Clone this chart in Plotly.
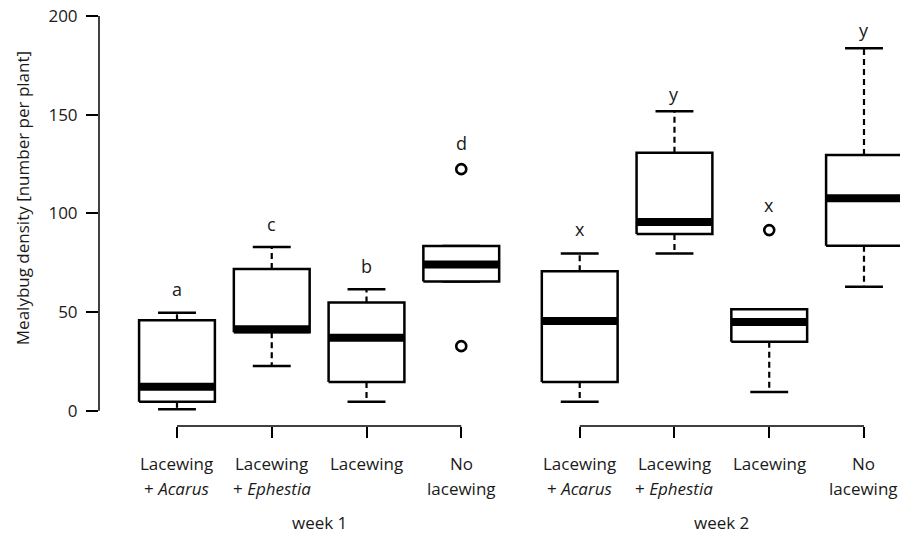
import plotly.graph_objects as go

# ---- data ----
positions = [1, 2, 3, 4, 5.25, 6.25, 7.25, 8.25]
lower_whisker = [0.8, 22.6, 4.6, 65.5, 4.5, 79.7, 9.5, 62.8]
q1 = [4.5, 39.8, 14.5, 65.5, 14.6, 89.5, 35.0, 83.6]
median = [12.1, 41.3, 37.0, 74.1, 45.5, 95.6, 45.0, 107.7]
q3 = [45.8, 71.8, 54.8, 83.5, 70.7, 130.7, 51.4, 129.5]
upper_whisker = [49.6, 82.9, 61.6, 83.5, 79.7, 151.7, 51.4, 183.6]
outlier_box = [3, 3, 6]
outlier_val = [122.4, 32.7, 91.5]
letters = ["a", "c", "b", "d", "x", "y", "x", "y"]
letter_y = [61.6, 94.6, 73.3, 135.6, 92.0, 160.4, 104.2, 193.0]
label_line1 = ["Lacewing", "Lacewing", "Lacewing", "No"] * 2
label_line2 = ["+ <i>Acarus</i>", "+ <i>Ephestia</i>", "", "lacewing"] * 2
groups = ["week 1", "week 2"]
group_members = [[0, 1, 2, 3], [4, 5, 6, 7]]
y_ticks = [0, 50, 100, 150, 200]
y_title = "Mealybug density [number per plant]"

FONT = "Open Sans"
TXT = "#1a1a1a"
BOXW = 0.4   # half box width (x units)
CAPW = 0.2   # half staple width

fig = go.Figure()

bx, by, mx, my, wx, wy, cx, cy = [], [], [], [], [], [], [], []
for p, lo, a, m, b, hi in zip(positions, lower_whisker, q1, median, q3, upper_whisker):
    bx += [p - BOXW, p + BOXW, p + BOXW, p - BOXW, p - BOXW, None]
    by += [a, a, b, b, a, None]
    mx += [p - BOXW, p + BOXW, None]
    my += [m, m, None]
    wx += [p, p, None, p, p, None]
    wy += [b, hi, None, a, lo, None]
    cx += [p - CAPW, p + CAPW, None, p - CAPW, p + CAPW, None]
    cy += [hi, hi, None, lo, lo, None]

fig.add_trace(go.Scatter(x=wx, y=wy, mode="lines",
                         line=dict(color="black", width=2.2, dash="6px,4px"),
                         hoverinfo="skip"))
fig.add_trace(go.Scatter(x=cx, y=cy, mode="lines",
                         line=dict(color="black", width=2.5), hoverinfo="skip"))
fig.add_trace(go.Scatter(x=bx, y=by, mode="lines", fill="toself", fillcolor="white",
                         line=dict(color="black", width=2.5), hoverinfo="skip"))
fig.add_trace(go.Scatter(x=mx, y=my, mode="lines",
                         line=dict(color="black", width=8), hoverinfo="skip"))
fig.add_trace(go.Scatter(x=[positions[i] for i in outlier_box], y=outlier_val,
                         mode="markers",
                         marker=dict(symbol="circle-open", size=10, color="black",
                                     line=dict(width=2.6, color="black")),
                         hoverinfo="skip"))

FS = 17
annotations = []
for p, t, yv in zip(positions, letters, letter_y):
    annotations.append(dict(x=p, y=yv, xref="x", yref="y", text=t, showarrow=False,
                            font=dict(family=FONT, size=FS + 1, color=TXT)))
for p, t1, t2 in zip(positions, label_line1, label_line2):
    annotations.append(dict(x=p, y=0, xref="x", yref="paper", text=t1, showarrow=False,
                            yanchor="middle", yshift=-37,
                            font=dict(family=FONT, size=FS, color=TXT)))
    if t2:
        annotations.append(dict(x=p, y=0, xref="x", yref="paper", text=t2, showarrow=False,
                                yanchor="middle", yshift=-62,
                                font=dict(family=FONT, size=FS, color=TXT)))
shapes = []
for g, mem in zip(groups, group_members):
    xs = [positions[i] for i in mem]
    annotations.append(dict(x=sum([min(xs), max(xs)]) / 2, y=0, xref="x", yref="paper",
                            text=g, showarrow=False, yanchor="middle", yshift=-96,
                            font=dict(family=FONT, size=FS, color=TXT)))
    shapes.append(dict(type="line", xref="x", yref="paper", x0=min(xs), x1=max(xs),
                       y0=0, y1=0, line=dict(color="black", width=1.5)))
# y axis line only over the tick range
shapes.append(dict(type="line", xref="paper", yref="y", x0=0, x1=0,
                   y0=min(y_ticks), y1=max(y_ticks), line=dict(color="black", width=1.5)))
annotations.append(dict(x=-0.096, y=0.535, xref="paper", yref="paper", text=y_title,
                        textangle=-90, showarrow=False, xanchor="center", yanchor="middle",
                        font=dict(family=FONT, size=FS, color=TXT)))

fig.update_layout(
    width=900, height=533,
    margin=dict(l=99, r=0, t=0, b=107),
    plot_bgcolor="white", paper_bgcolor="white",
    showlegend=False,
    annotations=annotations, shapes=shapes,
    xaxis=dict(range=[0.177, 8.63], tickvals=positions, ticks="outside", ticklen=11,
               tickwidth=1.5, tickcolor="black", showticklabels=False, showline=False,
               showgrid=False, zeroline=False, fixedrange=True),
    yaxis=dict(range=[-7.75, 208.1], tickvals=y_ticks, ticks="outside", ticklen=12,
               tickwidth=1.5, tickcolor="black", showline=False, showgrid=False,
               zeroline=False, ticklabelstandoff=5,
               tickfont=dict(family=FONT, size=FS, color=TXT), fixedrange=True),
)

fig.write_html("out.html", config={"displayModeBar": False},
               post_script="document.body.style.margin='0';document.body.style.overflow='hidden';")
